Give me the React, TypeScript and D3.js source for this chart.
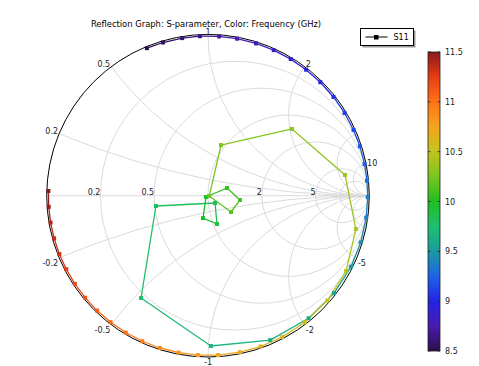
import React, { useEffect, useRef } from "react";
import * as d3 from "d3";

// S11 sweep: [frequency (GHz), |S11|, phase (deg)]
const s11Data: [number, number, number][] = [
  [8.5, 0.99, 112.5], [8.55, 0.99, 106.4], [8.6, 0.99, 99.3], [8.65, 0.99, 92.9],
  [8.7, 0.99, 86.0], [8.75, 0.99, 79.5], [8.8, 0.99, 72.5], [8.85, 0.99, 65.7],
  [8.9, 0.99, 58.8], [8.95, 0.99, 52.1], [9.0, 0.99, 45.3], [9.05, 0.99, 38.2],
  [9.1, 0.99, 31.2], [9.15, 0.99, 24.3], [9.2, 0.99, 18.0], [9.25, 0.99, 11.4],
  [9.3, 0.99, 5.4], [9.35, 0.99, -0.5], [9.4, 0.99, -7.9], [9.45, 0.99, -17.0],
  [9.5, 0.99, -26.4], [9.55, 0.988, -37.7], [9.6, 0.983, -50.6], [9.65, 0.975, -66.7],
  [9.7, 0.932, -88.9], [9.75, 0.758, -123.2], [9.8, 0.329, -168.8], [9.85, 0.063, -46.0],
  [9.9, 0.184, -72.4], [9.95, 0.142, -102.6], [10.0, 0.015, -147.0], [10.05, 0.127, 22.1],
  [10.1, 0.2, -7.7], [10.15, 0.175, -35.3], [10.2, 0.008, -17.0], [10.25, 0.324, 75.6],
  [10.3, 0.665, 38.5], [10.35, 0.859, 8.6], [10.4, 0.94, -12.7], [10.45, 0.975, -28.6],
  [10.5, 0.985, -41.3], [10.55, 0.988, -52.6], [10.6, 0.99, -62.3], [10.65, 0.99, -70.8],
  [10.7, 0.99, -78.5], [10.75, 0.99, -86.4], [10.8, 0.99, -93.6], [10.85, 0.99, -100.6],
  [10.9, 0.99, -107.5], [10.95, 0.99, -114.3], [11.0, 0.99, -121.0], [11.05, 0.99, -127.6],
  [11.1, 0.99, -134.0], [11.15, 0.99, -140.3], [11.2, 0.99, -146.5], [11.25, 0.99, -152.6],
  [11.3, 0.99, -158.6], [11.35, 0.99, -164.5], [11.4, 0.99, -170.3], [11.45, 0.99, -176.0],
  [11.5, 0.99, -181.7],
];

// smith chart grid
const resistanceGrid = [0.2, 0.5, 1, 2, 5, 10];
const reactanceGrid = [0.2, 0.5, 1, 2, 5, 10, -0.2, -0.5, -1, -2, -5, -10];
const resistanceLabels = [0.2, 0.5, 2, 5];
const reactanceLabels = [0.2, 0.5, 1, 2, 10, -0.2, -0.5, -1, -2, -5];

// colorbar
const colorTicks = [8.5, 9, 9.5, 10, 10.5, 11, 11.5];
const rainbowFreqs = [8.5, 8.75, 9.0, 9.25, 9.5, 9.75, 10.0, 10.25, 10.5, 10.75, 11.0, 11.25, 11.5];
const rainbowColors = [
  "#2b0f4b", "#4a1ab0", "#2424e6", "#1e64e6", "#1a9aa0", "#1ebf70", "#1fbf1f",
  "#7cc51f", "#c4c41e", "#f5a41c", "#ff7316", "#e83c14", "#861a1a",
];

const titleText = "Reflection Graph: S-parameter, Color: Frequency (GHz)";
const legendName = "S11";

const FONT = "DejaVu Sans, sans-serif";

export default function App() {
  const ref = useRef<SVGSVGElement>(null);

  useEffect(() => {
    const svg = d3.select(ref.current);
    svg.selectAll("*").remove();

    const cx = 208, cy = 195.7, R = 161.3;
    const x = d3.scaleLinear().domain([-1, 1]).range([cx - R, cx + R]);
    const y = d3.scaleLinear().domain([-1, 1]).range([cy + R, cy - R]);
    const color = d3.scaleLinear<string>().domain(rainbowFreqs).range(rainbowColors);

    const defs = svg.append("defs");
    defs.append("clipPath").attr("id", "unit")
      .append("circle").attr("cx", x(0)).attr("cy", y(0)).attr("r", R);

    const grad = defs.append("linearGradient").attr("id", "cbar")
      .attr("x1", 0).attr("y1", 1).attr("x2", 0).attr("y2", 0);
    d3.range(0, 1.0001, 0.02).forEach(t => {
      grad.append("stop").attr("offset", t)
        .attr("stop-color", color(8.5 + t * 3));
    });

    // title
    svg.append("text")
      .attr("x", 206).attr("y", 26.5)
      .attr("text-anchor", "middle")
      .attr("font-family", FONT).attr("font-size", 8.4)
      .attr("fill", "#000")
      .text(titleText);

    // grid
    const grid = svg.append("g").attr("clip-path", "url(#unit)")
      .attr("fill", "none").attr("stroke", "#dadada").attr("stroke-width", 1);

    resistanceGrid.forEach(r => {
      grid.append("circle")
        .attr("cx", x(r / (1 + r))).attr("cy", y(0))
        .attr("r", x(1 / (1 + r)) - x(0));
    });
    reactanceGrid.forEach(xv => {
      grid.append("circle")
        .attr("cx", x(1)).attr("cy", y(1 / xv))
        .attr("r", x(1 / Math.abs(xv)) - x(0));
    });
    grid.append("line")
      .attr("x1", x(-1)).attr("x2", x(1)).attr("y1", y(0)).attr("y2", y(0));

    // unit circle
    svg.append("circle")
      .attr("cx", x(0)).attr("cy", y(0)).attr("r", R)
      .attr("fill", "none").attr("stroke", "#000").attr("stroke-width", 1);

    // labels
    const labels = svg.append("g")
      .attr("font-family", FONT).attr("font-size", 8).attr("fill", "#222");

    resistanceLabels.forEach(r => {
      labels.append("text")
        .attr("x", x((r - 1) / (r + 1))).attr("y", y(0) - 0.5)
        .attr("text-anchor", "end")
        .text(String(r));
    });

    reactanceLabels.forEach(xv => {
      const re = (xv * xv - 1) / (xv * xv + 1);
      const im = (2 * xv) / (xv * xv + 1);
      const px = x(re), py = y(im);
      let anchor = "middle", dx = 0;
      if (re < -0.15) { anchor = "end"; dx = -1; }
      else if (re > 0.15) { anchor = "start"; dx = 1; }
      labels.append("text")
        .attr("x", px + dx)
        .attr("y", xv > 0 ? py + (re > 0.9 ? 2.5 : 0.5) : py + 8.3)
        .attr("text-anchor", anchor)
        .text(String(xv));
    });

    // trace
    const pts = s11Data.map(([f, m, ph]) => {
      const a = (ph * Math.PI) / 180;
      return { f, px: x(m * Math.cos(a)), py: y(m * Math.sin(a)) };
    });

    const trace = svg.append("g");
    trace.selectAll("line")
      .data(d3.pairs(pts))
      .join("line")
      .attr("x1", d => d[0].px).attr("y1", d => d[0].py)
      .attr("x2", d => d[1].px).attr("y2", d => d[1].py)
      .attr("stroke", d => color((d[0].f + d[1].f) / 2))
      .attr("stroke-width", 1.3)
      .attr("stroke-linecap", "round");

    const ms = 4;
    trace.selectAll("rect")
      .data(pts)
      .join("rect")
      .attr("x", d => d.px - ms / 2).attr("y", d => d.py - ms / 2)
      .attr("width", ms).attr("height", ms)
      .attr("fill", d => color(d.f));

    // legend
    const lg = svg.append("g").attr("transform", "translate(360.5,28.5)");
    lg.append("rect").attr("x", 2).attr("y", 2).attr("width", 53).attr("height", 17)
      .attr("fill", "#9a9a9a");
    lg.append("rect").attr("width", 53).attr("height", 17)
      .attr("fill", "#fff").attr("stroke", "#000").attr("stroke-width", 1);
    lg.append("line").attr("x1", 5).attr("x2", 27).attr("y1", 8.5).attr("y2", 8.5)
      .attr("stroke", "#000").attr("stroke-width", 1);
    lg.append("rect").attr("x", 13.5).attr("y", 6.5).attr("width", 4.5).attr("height", 4.5)
      .attr("fill", "#000");
    lg.append("text").attr("x", 33).attr("y", 11.5)
      .attr("font-family", FONT).attr("font-size", 8).attr("fill", "#000")
      .text(legendName);

    // colorbar
    const cbX = 428, cbW = 12;
    const cy2 = d3.scaleLinear().domain([8.5, 11.5]).range([351, 52]);
    svg.append("rect")
      .attr("x", cbX).attr("y", cy2(11.5)).attr("width", cbW)
      .attr("height", cy2(8.5) - cy2(11.5))
      .attr("fill", "url(#cbar)")
      .attr("stroke", "#222").attr("stroke-width", 0.8);

    const cb = svg.append("g");
    colorTicks.forEach(t => {
      cb.append("line").attr("x1", cbX).attr("x2", cbX + 2.5)
        .attr("y1", cy2(t)).attr("y2", cy2(t)).attr("stroke", "#222").attr("stroke-width", 0.8);
      cb.append("line").attr("x1", cbX + cbW - 2.5).attr("x2", cbX + cbW)
        .attr("y1", cy2(t)).attr("y2", cy2(t)).attr("stroke", "#222").attr("stroke-width", 0.8);
      cb.append("text")
        .attr("x", 445).attr("y", cy2(t) + 3)
        .attr("font-family", FONT).attr("font-size", 8).attr("fill", "#222")
        .text(String(t));
    });
  }, []);

  return (
    <svg
      ref={ref}
      width={479}
      height={366}
      style={{ position: "absolute", left: 0, top: 0, background: "#fff" }}
    />
  );
}
